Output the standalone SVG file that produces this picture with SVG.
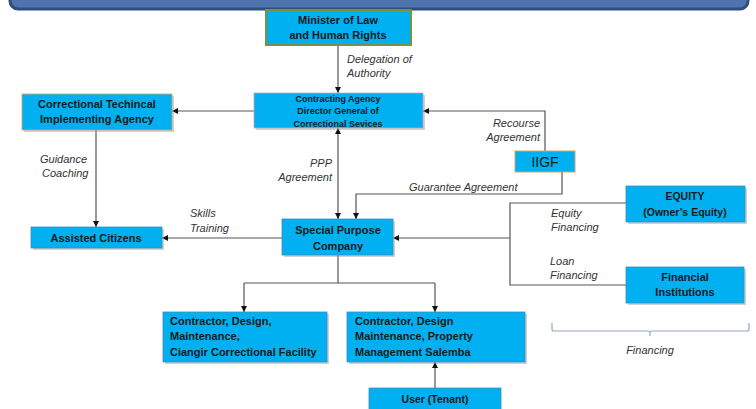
<svg xmlns="http://www.w3.org/2000/svg" width="756" height="409" viewBox="0 0 756 409">
<defs>
<style>
.box{fill:#00b0f0;stroke:#3a8fc0;stroke-width:0.8}
.shadow{fill:#9a9a9a;opacity:0.45}
.t{font-family:"Liberation Sans",Arial,sans-serif;font-size:11px;font-weight:bold;fill:#1a1a1a;text-anchor:middle}
.tl{font-family:"Liberation Sans",Arial,sans-serif;font-size:11px;font-weight:bold;fill:#1a1a1a}
.lab{font-family:"Liberation Sans",Arial,sans-serif;font-size:11px;font-style:italic;fill:#333}
.ln{fill:none;stroke:#555;stroke-width:1.2}
</style>
<marker id="ah" viewBox="0 0 10 10" refX="10" refY="5" markerWidth="6" markerHeight="6" orient="auto-start-reverse" markerUnits="userSpaceOnUse">
<path d="M0,0 L10,5 L0,10 z" fill="#111"/>
</marker>
</defs>
<rect width="756" height="409" fill="#fff"/>
<rect x="10" y="-20" width="738" height="29" rx="8" fill="#4f74ad" stroke="#2f4d7e" stroke-width="3"/>

<g id="connectors">
<path class="ln" d="M338,45 V93" marker-end="url(#ah)"/>
<path class="ln" d="M254,111 H172" marker-end="url(#ah)"/>
<path class="ln" d="M96,130 V227" marker-end="url(#ah)"/>
<path class="ln" d="M282,238 H162" marker-end="url(#ah)"/>
<path class="ln" d="M338,128 V219" marker-start="url(#ah)" marker-end="url(#ah)"/>
<path class="ln" d="M545,151 V111 H423" marker-end="url(#ah)"/>
<path class="ln" d="M562,172 V194 H356 V219" marker-end="url(#ah)"/>
<path class="ln" d="M626,203 H510 V285 H626"/>
<path class="ln" d="M510,238 H393" marker-end="url(#ah)"/>
<path class="ln" d="M338,255 V283"/>
<path class="ln" d="M244,283 H435"/>
<path class="ln" d="M244,283 V312" marker-end="url(#ah)"/>
<path class="ln" d="M435,283 V312" marker-end="url(#ah)"/>
<path class="ln" d="M435,388 V362" marker-end="url(#ah)"/>
<path d="M552,323 V329 Q552,331 554,331 H648 Q650,331 650,333 V336 M650,333 Q650,331 652,331 H747 Q749,331 749,329 V323" fill="none" stroke="#8ea9cc" stroke-width="1.2"/>
<text class="lab" x="347" y="63">Delegation of</text>
<text class="lab" x="347" y="77">Authority</text>
<text class="lab" x="40" y="163">Guidance</text>
<text class="lab" x="42" y="177">Coaching</text>
<text class="lab" x="190" y="217">Skills</text>
<text class="lab" x="190" y="232">Training</text>
<text class="lab" x="332" y="167" text-anchor="end">PPP</text>
<text class="lab" x="332" y="181" text-anchor="end">Agreement</text>
<text class="lab" x="540" y="127" text-anchor="end">Recourse</text>
<text class="lab" x="540" y="141" text-anchor="end">Agreement</text>
<text class="lab" x="409" y="191">Guarantee Agreement</text>
<text class="lab" x="551" y="217">Equity</text>
<text class="lab" x="551" y="231">Financing</text>
<text class="lab" x="550" y="265">Loan</text>
<text class="lab" x="550" y="279">Financing</text>
<text class="lab" x="650" y="354" text-anchor="middle">Financing</text>
</g>

<g id="minister">
<rect x="266" y="10" width="145" height="35" fill="#00b0f0" stroke="#77933c" stroke-width="2"/>
<text class="t" x="338" y="24">Minister of Law</text>
<text class="t" x="338" y="39">and Human Rights</text>
</g>
<g id="contracting">
<rect class="shadow" x="256" y="95" width="169" height="35"/>
<rect x="254" y="93" width="169" height="35" fill="#00b0f0" stroke="#c9a3c4" stroke-width="0.8"/>
<text class="t" x="338" y="102" style="font-size:9px">Contracting Agency</text>
<text class="t" x="338" y="114" style="font-size:9px">Director General of</text>
<text class="t" x="338" y="127" style="font-size:9px">Correctional Sevices</text>
</g>
<g id="techagency">
<rect class="shadow" x="24" y="96" width="150" height="36"/>
<rect x="22" y="94" width="150" height="36" fill="#00b0f0" stroke="#d2a46c" stroke-width="0.8"/>
<text class="t" x="97" y="108">Correctional Techincal</text>
<text class="t" x="97" y="123">Implementing Agency</text>
</g>
<g id="citizens">
<rect class="shadow" x="33" y="229" width="131" height="21"/>
<rect class="box" x="31" y="227" width="131" height="21"/>
<text class="t" x="96" y="241.5">Assisted Citizens</text>
</g>
<g id="iigf">
<rect x="515" y="151" width="60" height="21" fill="#00b0f0" stroke="#d2a46c" stroke-width="1"/>
<text class="t" x="545" y="166.5" style="font-size:14px;font-weight:normal">IIGF</text>
</g>
<g id="spc">
<rect class="shadow" x="284" y="221" width="111" height="36"/>
<rect class="box" x="282" y="219" width="111" height="36"/>
<text class="t" x="338" y="234">Special Purpose</text>
<text class="t" x="338" y="250">Company</text>
</g>
<g id="equity">
<rect class="shadow" x="628" y="188" width="119" height="36"/>
<rect class="box" x="626" y="186" width="119" height="36"/>
<text class="t" x="685" y="200" style="font-size:10.5px">EQUITY</text>
<text class="t" x="685" y="216" style="font-size:10.5px">(Owner’s Equity)</text>
</g>
<g id="financial">
<rect class="shadow" x="628" y="269" width="118" height="36"/>
<rect class="box" x="626" y="267" width="118" height="36"/>
<text class="t" x="685" y="281">Financial</text>
<text class="t" x="685" y="296">Institutions</text>
</g>
<g id="ciangir">
<rect class="shadow" x="165" y="314" width="164" height="50"/>
<rect class="box" x="163" y="312" width="164" height="50"/>
<text class="tl" x="170" y="325">Contractor, Design,</text>
<text class="tl" x="170" y="340">Maintenance,</text>
<text class="tl" x="170" y="356">Ciangir Correctional Facility</text>
</g>
<g id="salemba">
<rect class="shadow" x="349" y="314" width="178" height="50"/>
<rect class="box" x="347" y="312" width="178" height="50"/>
<text class="tl" x="355" y="325">Contractor, Design</text>
<text class="tl" x="355" y="340">Maintenance, Property</text>
<text class="tl" x="355" y="356">Management Salemba</text>
</g>
<g id="user">
<rect class="box" x="369" y="388" width="132" height="25"/>
<text class="t" x="435" y="403" style="font-size:10.5px">User (Tenant)</text>
</g>
</svg>
